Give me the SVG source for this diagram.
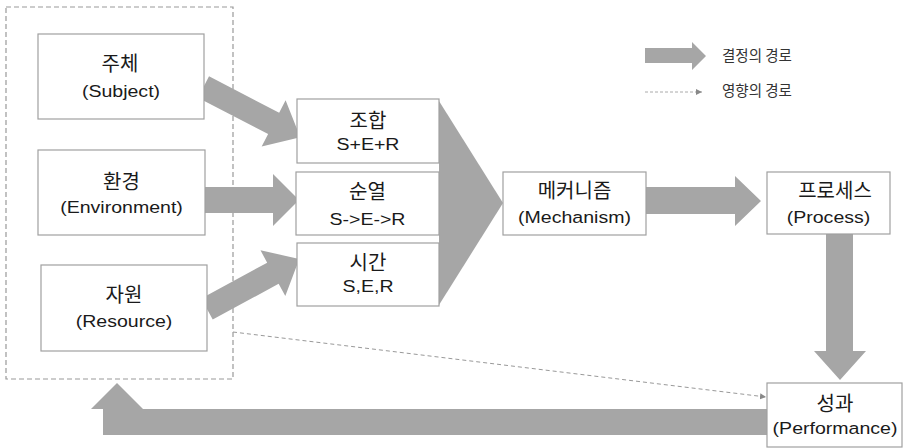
<svg xmlns="http://www.w3.org/2000/svg" width="903" height="448" viewBox="0 0 903 448">
<style>
.box{fill:#fff;stroke:#a0a0a0;stroke-width:1.2}
.arr{fill:#a6a6a6;stroke:none}
.t{font-family:"Liberation Sans","Noto Sans CJK KR",sans-serif;font-size:17px;fill:#1a1a1a;text-anchor:middle}
.k{font-family:"Noto Sans CJK KR","Liberation Sans",sans-serif;font-size:20px;fill:#1a1a1a;text-anchor:middle}
.lg{font-family:"Noto Sans CJK KR","Liberation Sans",sans-serif;font-size:14.5px;fill:#333;text-anchor:start}
</style>
<defs>
<marker id="sm" markerWidth="8" markerHeight="8" refX="6" refY="3" orient="auto" markerUnits="userSpaceOnUse">
<path d="M0,0 L6,3 L0,6 Z" fill="#888"/>
</marker>
</defs>
<rect width="903" height="448" fill="#fff"/>

<g id="container">
<rect x="6" y="7" width="227" height="372" fill="none" stroke="#999" stroke-width="1.2" stroke-dasharray="5,3"/>
</g>

<g id="connectors">
<polygon class="arr" transform="translate(203.5,87) rotate(27.4)" points="0,-12 79,-12 79,-26 109,0 79,26 79,12 0,12"/>
<polygon class="arr" points="198,187 273,187 273,174 299,200 273,226 273,213 198,213"/>
<polygon class="arr" transform="translate(207,309) rotate(-28.5)" points="0,-12 75,-12 75,-26 105,0 75,26 75,12 0,12"/>
<polygon class="arr" points="439,101 503,203 439,305"/>
<polygon class="arr" points="646,187 735,187 735,176 761,201 735,226 735,214 646,214"/>
<polygon class="arr" points="826,234 853,234 853,351 866,351 840,380 814,351 826,351"/>
<polygon class="arr" points="767,409 143,409 117,383 91,409 103,409 103,435 767,435"/>
<line x1="233" y1="332" x2="766" y2="397" stroke="#999" stroke-width="1" stroke-dasharray="4,3" marker-end="url(#sm)"/>
</g>

<g id="legend">
<polygon class="arr" points="645,48 692,48 692,42 706,56 692,70 692,63 645,63"/>
<text class="lg" x="722" y="61">결정의 경로</text>
<line x1="645" y1="92" x2="702" y2="92" stroke="#aaa" stroke-width="1" stroke-dasharray="3,2" marker-end="url(#sm)"/>
<text class="lg" x="722" y="96">영향의 경로</text>
</g>

<g id="subject">
<rect class="box" x="38" y="34" width="166" height="85"/>
<text class="k" x="120" y="71">주체</text>
<text class="t" transform="translate(121,97) scale(1.15,1)">(Subject)</text>
</g>

<g id="environment">
<rect class="box" x="38" y="150" width="167" height="85"/>
<text class="k" x="121.5" y="189">환경</text>
<text class="t" transform="translate(121.5,213) scale(1.15,1)">(Environment)</text>
</g>

<g id="resource">
<rect class="box" x="41" y="265" width="166" height="86"/>
<text class="k" x="124" y="302">자원</text>
<text class="t" transform="translate(124,327) scale(1.15,1)">(Resource)</text>
</g>

<g id="combination">
<rect class="box" x="297" y="99" width="142" height="64"/>
<text class="k" x="368" y="128">조합</text>
<text class="t" transform="translate(368,150) scale(1.15,1)">S+E+R</text>
</g>

<g id="permutation">
<rect class="box" x="296" y="172" width="143" height="63"/>
<text class="k" x="367.5" y="199">순열</text>
<text class="t" transform="translate(367.5,225) scale(1.15,1)">S-&gt;E-&gt;R</text>
</g>

<g id="time">
<rect class="box" x="297" y="243" width="142" height="63"/>
<text class="k" x="368" y="270">시간</text>
<text class="t" transform="translate(368,292) scale(1.15,1)">S,E,R</text>
</g>

<g id="mechanism">
<rect class="box" x="503" y="172" width="143" height="63"/>
<text class="k" x="574.5" y="198">메커니즘</text>
<text class="t" transform="translate(574.5,223) scale(1.15,1)">(Mechanism)</text>
</g>

<g id="process">
<rect class="box" x="767" y="172" width="123" height="62"/>
<text class="k" x="835" y="198">프로세스</text>
<text class="t" transform="translate(828.5,223) scale(1.15,1)">(Process)</text>
</g>

<g id="performance">
<rect class="box" x="767" y="383" width="135" height="64"/>
<text class="k" x="835" y="411">성과</text>
<text class="t" transform="translate(835,434) scale(1.15,1)">(Performance)</text>
</g>
</svg>
